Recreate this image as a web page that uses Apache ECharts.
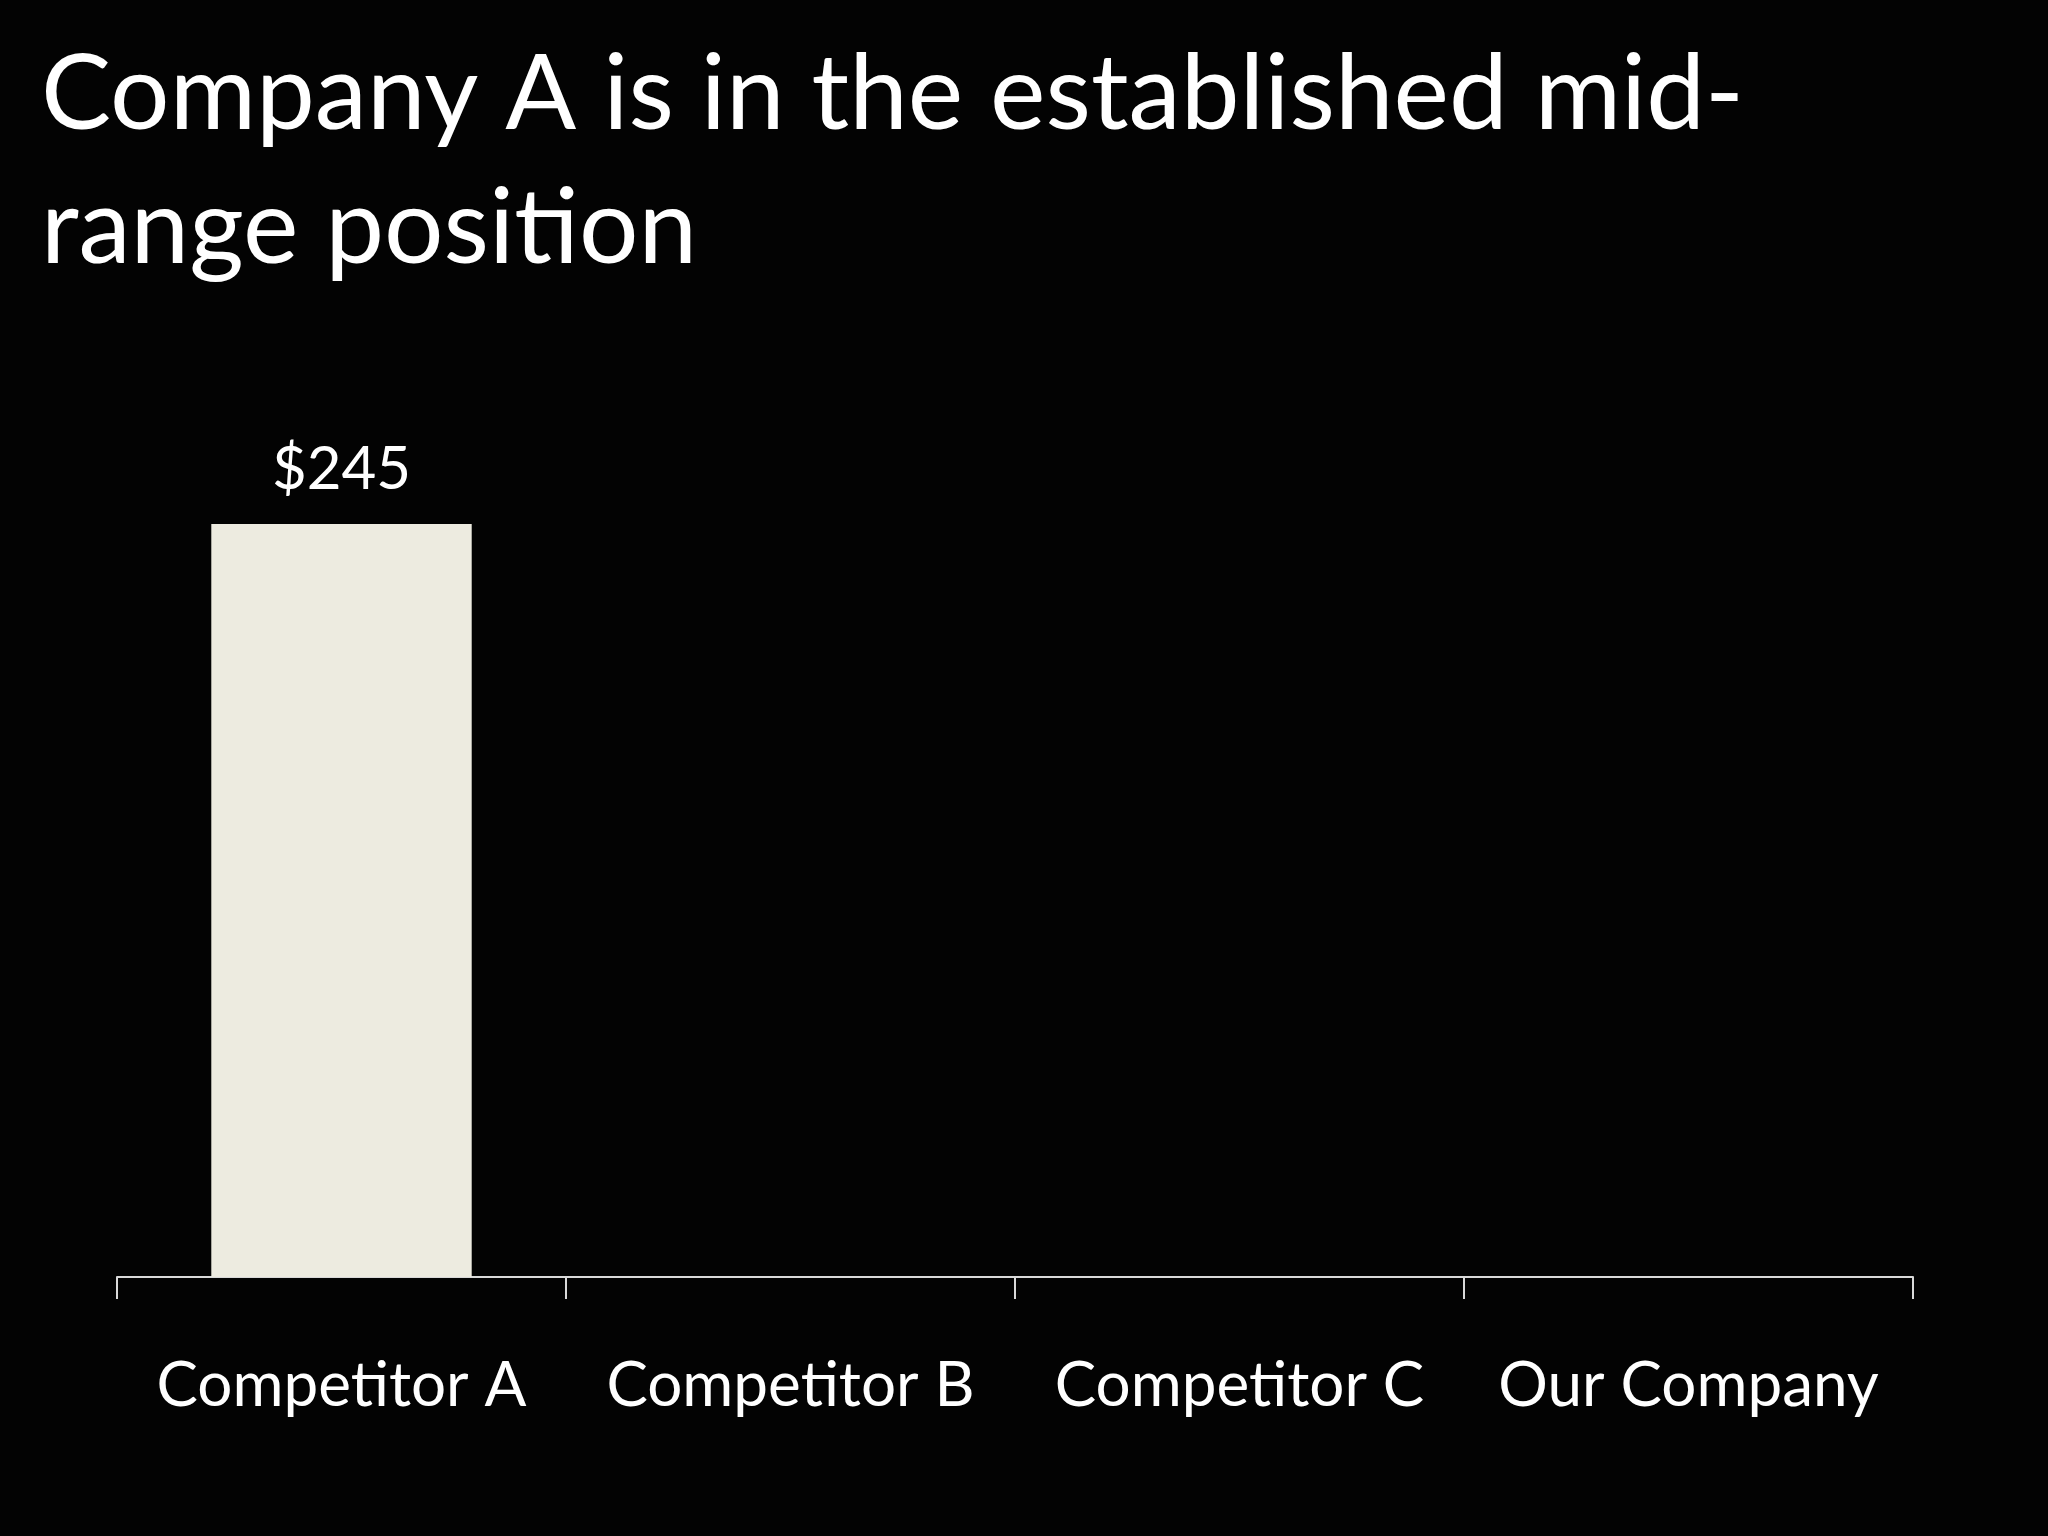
<!DOCTYPE html>
<html style="height: 100%">
<head>
<meta charset="utf-8">
</head>
<body style="height: 100%; margin: 0; background: #030303">
<div id="container" style="height: 100%"></div>
<script type="text/javascript" src="https://cdn.jsdelivr.net/npm/echarts@6/dist/echarts.min.js"></script>
<script type="text/javascript">
var dom = document.getElementById("container");
var myChart = echarts.init(dom);

var titleLines = ['Company A is in the established mid-', 'range position'];
var categories = ['Competitor A', 'Competitor B', 'Competitor C', 'Our Company'];
var prices = [245, null, null, null];

var FONT = 'Lato';

var option = {
    backgroundColor: '#030303',
    animation: false,
    title: {
        text: titleLines.join('\n'),
        left: 36,
        top: 23,
        textStyle: {
            color: '#ffffff',
            fontFamily: FONT,
            fontWeight: 'normal',
            fontSize: 105,
            lineHeight: 134
        }
    },
    grid: {
        left: 117,
        right: 135,
        top: 355,
        bottom: 259
    },
    xAxis: {
        type: 'category',
        data: categories,
        axisLine: {
            lineStyle: { color: '#d9d9d9', width: 2 }
        },
        axisTick: {
            show: true,
            alignWithLabel: false,
            interval: 0,
            length: 22,
            lineStyle: { color: '#d9d9d9', width: 2 }
        },
        axisLabel: {
            interval: 0,
            color: '#ffffff',
            fontFamily: FONT,
            fontSize: 62,
            margin: 78
        }
    },
    yAxis: {
        type: 'value',
        min: 0,
        max: 300,
        show: false
    },
    series: [{
        type: 'bar',
        data: prices,
        barWidth: '58%',
        itemStyle: { color: '#edebe0' },
        label: {
            show: true,
            position: 'top',
            distance: 24,
            color: '#ffffff',
            fontFamily: FONT,
            fontSize: 60,
            formatter: function (p) { return '$' + p.value; }
        }
    }]
};

myChart.setOption(option, true);
</script>
</body>
</html>
